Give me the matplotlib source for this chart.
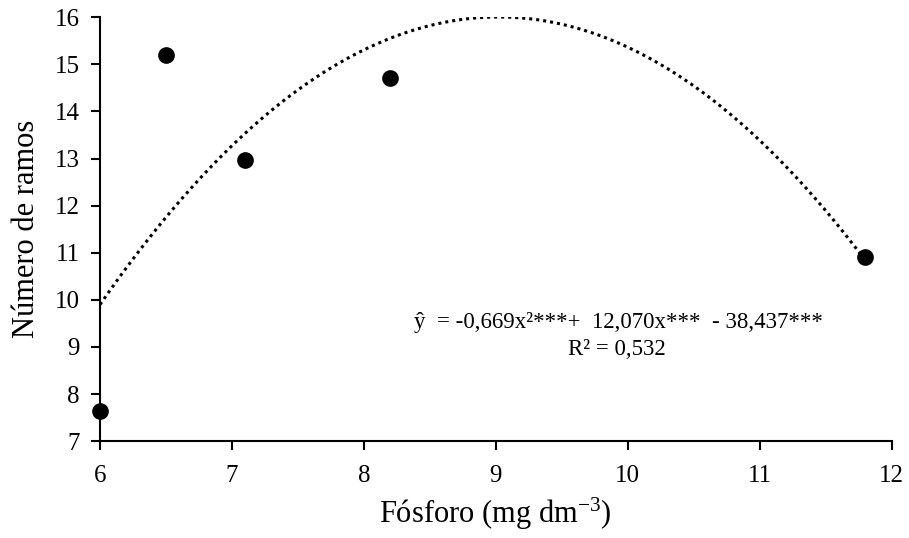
import numpy as np
import matplotlib
matplotlib.use('Agg')
from matplotlib import pyplot as plt

plt.rcParams['font.family'] = ['Liberation Serif', 'DejaVu Serif']
plt.rcParams['mathtext.fontset'] = 'custom'
plt.rcParams['mathtext.rm'] = 'Liberation Serif'
plt.rcParams['mathtext.it'] = 'Liberation Serif:italic'

# observed means
fosforo = [6.0, 6.5, 7.1, 8.2, 11.8]
ramos = [7.65, 15.2, 12.97, 14.72, 10.9]

# fitted quadratic (coefficients shown on the chart)
coef_a = -0.669
coef_b = 12.070
coef_c = -38.437

x_ticks = [6, 7, 8, 9, 10, 11, 12]
y_ticks = [7, 8, 9, 10, 11, 12, 13, 14, 15, 16]

fig = plt.figure(figsize=(9.09, 5.38), dpi=100)
ax = fig.add_axes([0.110, 0.180, 0.871, 0.788])

xs = np.linspace(min(fosforo), max(fosforo), 300)
ys = np.polyval([coef_a, coef_b, coef_c], xs)
ax.plot(xs, ys, color='black', lw=2.2, linestyle=(0, (1, 1.3)))
ax.plot(fosforo, ramos, 'o', color='black', markersize=11, clip_on=False, zorder=3)

ax.set_xlim(6, 12)
ax.set_ylim(7, 16)
ax.set_xticks(x_ticks)
ax.set_yticks(y_ticks)

for s in ['top', 'right']:
    ax.spines[s].set_visible(False)
for s in ['left', 'bottom']:
    ax.spines[s].set_linewidth(1.5)
ax.tick_params(direction='out', length=6.5, width=1.5, labelsize=18, pad=8)
ax.tick_params(axis='x', pad=11)

ax.set_xlabel(r'Fósforo (mg dm$^{-3}$)', fontsize=22, labelpad=6)
ax.set_ylabel('Número de ramos', fontsize=22, labelpad=10)

ax.text(9.93, 9.52, 'ŷ  = -0,669x²***+  12,070x***  - 38,437***',
        ha='center', va='center', fontsize=16.5)
ax.text(9.92, 8.95, 'R² = 0,532', ha='center', va='center', fontsize=16.5)

fig.savefig('out.png', dpi=100)
